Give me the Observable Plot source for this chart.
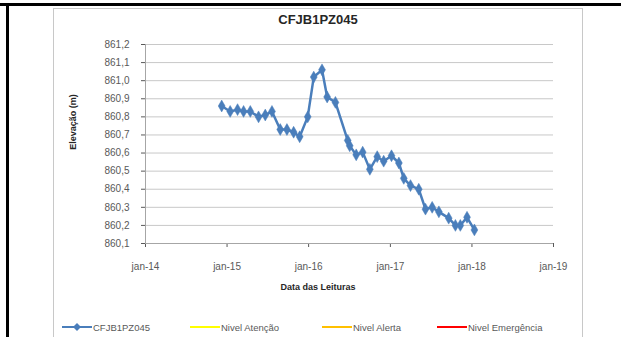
<!DOCTYPE html>
<html><head><meta charset="utf-8">
<script src="https://cdn.jsdelivr.net/npm/d3@7"></script>
<script src="https://cdn.jsdelivr.net/npm/@observablehq/plot@0.6"></script>
<style>
html,body{margin:0;padding:0}
body{width:621px;height:337px;overflow:hidden;background:#fff;font-family:"Liberation Sans",Arial,sans-serif;position:relative}
#topbar{position:absolute;left:0;top:3px;width:621px;height:3px;background:#000}
#leftbar{position:absolute;left:6px;top:3px;width:3px;height:334px;background:#000}
#box{position:absolute;left:53px;top:8px;width:530px;height:340px;border:1px solid #c8c8c8;box-sizing:border-box}
#chart{position:absolute;left:0;top:0}
.t{position:absolute;white-space:nowrap;color:#404040}
#title{left:218px;width:200px;top:12px;text-align:center;font-weight:bold;font-size:13px;color:#262626}
#ytitle{left:73px;top:122px;transform:translate(-50%,-50%) rotate(-90deg);font-weight:bold;font-size:9px;color:#262626}
#xtitle{left:318px;top:287px;transform:translate(-50%,-50%);font-weight:bold;font-size:9px;color:#262626}
#legend{position:absolute;left:0;top:321px;height:12px;width:621px}
.li{position:absolute;top:0;font-size:9.5px;color:#595959;display:flex;align-items:center;height:12px}
.li svg{margin-right:1px}
</style></head><body>
<div id="topbar"></div><div id="leftbar"></div><div id="box"></div>
<div id="chart"></div>
<div id="title" class="t">CFJB1PZ045</div>
<div id="ytitle" class="t">Elevação (m)</div>
<div id="xtitle" class="t">Data das Leituras</div>
<div id="legend"></div>
<script>
const dates = ["2014-12-08","2015-01-15","2015-02-17","2015-03-16","2015-04-15","2015-05-22","2015-06-21","2015-07-21","2015-08-27","2015-09-26","2015-10-26","2015-11-22","2015-12-28","2016-01-24","2016-03-01","2016-03-24","2016-04-30","2016-06-24","2016-07-03","2016-08-01","2016-08-30","2016-10-01","2016-11-03","2016-12-02","2017-01-06","2017-02-08","2017-03-02","2017-04-01","2017-05-08","2017-06-07","2017-07-07","2017-08-06","2017-09-19","2017-10-19","2017-11-10","2017-12-10","2018-01-12"];
const elevations = [860.86,860.83,860.84,860.83,860.83,860.80,860.81,860.83,860.73,860.73,860.715,860.69,860.80,861.02,861.06,860.91,860.88,860.67,860.64,860.59,860.605,860.51,860.58,860.555,860.585,860.545,860.46,860.42,860.40,860.29,860.30,860.275,860.24,860.20,860.20,860.245,860.175];
const yTicks = [860.1,860.2,860.3,860.4,860.5,860.6,860.7,860.8,860.9,861.0,861.1,861.2];
const xTickYears = [2014,2015,2016,2017,2018,2019];
const seriesNames = ["CFJB1PZ045","Nivel Atenção","Nivel Alerta","Nivel Emergência"];
const seriesColors = ["#4A7EBB","#FFFF00","#FFC000","#FF0000"];

const data = dates.map((d,i)=>({date:new Date(d+"T00:00:00Z"), value:elevations[i]}));
const xTicks = xTickYears.map(y=>new Date(Date.UTC(y,0,1)));
const fmtY = v => d3.format(".1f")(v).replace(".",",");
const fmtX = d => "jan-" + String(d.getUTCFullYear()).slice(2);

const chart = Plot.plot({
  width:621, height:337,
  marginLeft:145, marginRight:68, marginTop:44, marginBottom:94,
  style:{fontFamily:"Liberation Sans, Arial, sans-serif", fontSize:"10px", color:"#595959", background:"transparent"},
  x:{type:"utc", domain:[xTicks[0], xTicks[xTicks.length-1]], ticks:xTicks, tickFormat:fmtX, label:null, tickSize:4, tickPadding:15},
  y:{domain:[860.1,861.2], ticks:yTicks, tickFormat:fmtY, label:null, tickSize:4, tickPadding:12},
  marks:[
    Plot.gridY(yTicks, {stroke:"#c8c8c8", strokeOpacity:1, strokeWidth:1}),
    Plot.ruleX([xTicks[0]], {stroke:"#a6a6a6"}),
    Plot.ruleY([860.1], {stroke:"#a6a6a6"}),
    Plot.line(data, {x:"date", y:"value", stroke:seriesColors[0], strokeWidth:2.5}),
    Plot.dot(data, {x:"date", y:"value", symbol:"diamond", r:3.6, fill:seriesColors[0], stroke:seriesColors[0], strokeWidth:0.5})
  ]
});
document.getElementById("chart").appendChild(chart);

const legendX = [62, 190, 322, 437];
const lg = document.getElementById("legend");
seriesNames.forEach((n,i)=>{
  const div = document.createElement("div");
  div.className="li";
  div.style.left = legendX[i]+"px";
  const w = 30;
  let svg = `<svg width="${w}" height="12"><line x1="0" x2="${w}" y1="6" y2="6" stroke="${seriesColors[i]}" stroke-width="2"/>`;
  if(i===0) svg += `<path d="M${w/2},2 L${w/2+4},6 L${w/2},10 L${w/2-4},6Z" fill="${seriesColors[i]}"/>`;
  svg += `</svg>`;
  div.innerHTML = svg + `<span>${n}</span>`;
  lg.appendChild(div);
});
</script>
</body></html>
